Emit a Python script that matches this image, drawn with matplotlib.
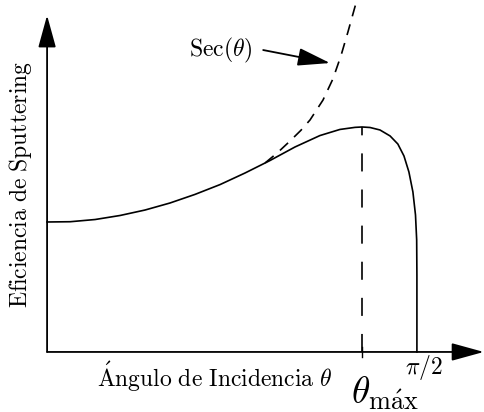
import numpy as np
import matplotlib
matplotlib.use("Agg")
import matplotlib.pyplot as plt

plt.rcParams['mathtext.fontset'] = 'cm'
plt.rcParams['lines.scale_dashes'] = False

# sputtering yield vs incidence angle (theta in rad, yield relative to normal incidence)
theta = [0.0, 0.098, 0.204, 0.310, 0.416, 0.522, 0.628, 0.735, 0.841, 0.947,
         1.053, 1.159, 1.244, 1.308, 1.338, 1.372, 1.414, 1.457, 1.490, 1.516,
         1.537, 1.554, 1.565, 1.570, 1.571, 1.571]
yield_ = [1.000, 1.002, 1.019, 1.050, 1.092, 1.146, 1.212, 1.288, 1.377, 1.473,
          1.577, 1.665, 1.712, 1.728, 1.731, 1.727, 1.708, 1.662, 1.600, 1.508,
          1.385, 1.231, 1.054, 0.862, 0.592, 0.0]

# sec(theta) branch, drawn from where it leaves the yield curve
theta_sec = [0.926, 0.980, 1.032, 1.078, 1.117, 1.172, 1.214, 1.248, 1.278, 1.304, 1.316]
sec_vals = [1.454, 1.535, 1.623, 1.705, 1.785, 1.938, 2.100, 2.277, 2.462, 2.631, 2.708]

theta_max = 1.338
y_at_max = 1.731

fig = plt.figure(figsize=(4.84, 4.12), dpi=100)
ax = fig.add_axes([0, 0, 1, 1])
ax.set_xlim(-0.20, 1.856)
ax.set_ylim(-0.462, 2.708)
ax.axis('off')

lw = 1.3
head = dict(arrowstyle='-|>,head_length=2.0,head_width=0.55', mutation_scale=10,
            color='k', lw=lw, shrinkA=0, shrinkB=0)

# axes with arrow heads
ax.annotate('', xy=(0, 2.59), xytext=(0, 0), arrowprops=head)
ax.annotate('', xy=(1.855, 0), xytext=(0, 0), arrowprops=head)

# curves
ax.plot(theta, yield_, color='k', lw=1.2, solid_joinstyle='round')
ax.plot(theta_sec, sec_vals, color='k', lw=1.2, dashes=(8, 6), clip_on=False)
ax.plot([theta_max, theta_max], [0, y_at_max], color='k', lw=1.2, dashes=(13, 13))

# tick at theta_max
ax.plot([theta_max, theta_max], [-0.035, 0.04], color='k', lw=1.0)

# labels
ax.text(-0.115, 1.285, r'$\mathrm{Eficiencia\ de\ Sputtering}$', rotation=90,
        ha='center', va='center', fontsize=17)
ax.text(0.713, -0.269, r'$\mathrm{\acute{A}ngulo\ de\ Incidencia}\ \theta$',
        ha='center', va='baseline', fontsize=17)
ax.text(1.600, -0.118, r'$\pi/2$', ha='center', va='center', fontsize=17)
ax.text(1.291, -0.400, r'$\theta_{\mathrm{m\acute{a}x}}$', ha='left',
        va='baseline', fontsize=27)

ax.text(0.735, 2.323, r'$\mathrm{Sec}(\theta)$', ha='center', va='center',
        fontsize=17)
ax.annotate('', xy=(1.202, 2.223), xytext=(0.918, 2.323), arrowprops=head)

fig.savefig('out.png', dpi=100)
